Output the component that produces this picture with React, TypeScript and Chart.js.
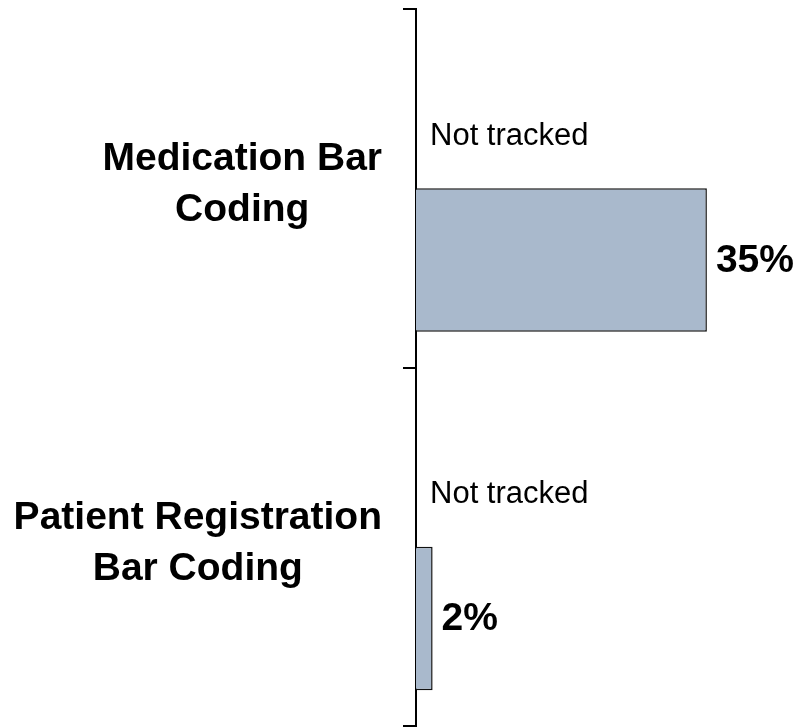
import React, { useEffect, useRef } from "react";
import { Chart, registerables } from "chart.js";

Chart.register(...registerables);

const categories: string[][] = [
  ["Medication Bar", "Coding"],
  ["Patient Registration", "Bar Coding"],
];
const notTrackedValues = [0, 0];
const notTrackedLabels = ["Not tracked", "Not tracked"];
const percentValues = [35, 2];

const FONT = '"Liberation Sans", Arial, sans-serif';
const BAR_COLOR = "#A9B9CC";

const labelsPlugin = {
  id: "customLabels",
  afterDatasetsDraw(chart: any) {
    const ctx = chart.ctx;
    const yScale = chart.scales.y;
    ctx.save();
    // category labels (centered per label, right edge near the axis ticks)
    ctx.fillStyle = "#000";
    ctx.font = `bold 39px ${FONT}`;
    ctx.textBaseline = "alphabetic";
    ctx.textAlign = "center";
    const rightEdge = chart.chartArea.left - 34;
    categories.forEach((lines, i) => {
      const cy = yScale.getPixelForValue(i);
      const widest = Math.max(...lines.map((l) => ctx.measureText(l).width));
      const cx = rightEdge - widest / 2;
      lines.forEach((line, j) => {
        ctx.fillText(line, cx, cy - 18 + j * 51);
      });
    });
    // "Not tracked" labels
    const meta0 = chart.getDatasetMeta(0);
    ctx.font = `31px ${FONT}`;
    ctx.textAlign = "left";
    meta0.data.forEach((bar: any, i: number) => {
      ctx.fillText(notTrackedLabels[i], bar.base + 14, bar.y + 28);
    });
    // value labels
    const meta1 = chart.getDatasetMeta(1);
    ctx.font = `bold 39px ${FONT}`;
    meta1.data.forEach((bar: any, i: number) => {
      ctx.fillText(`${percentValues[i]}%`, bar.x + 9, bar.y + 12);
    });
    ctx.restore();
  },
};

export default function App() {
  const canvasRef = useRef<HTMLCanvasElement | null>(null);

  useEffect(() => {
    document.body.style.margin = "0";
    document.body.style.overflow = "hidden";
    const canvas = canvasRef.current;
    if (!canvas) return;
    const chart = new Chart(canvas, {
      type: "bar",
      data: {
        labels: categories.map((c) => c.join(" ")),
        datasets: [
          {
            label: "Not tracked",
            data: notTrackedValues,
            backgroundColor: "rgba(0,0,0,0)",
            borderWidth: 0,
          },
          {
            label: "Percent",
            data: percentValues,
            backgroundColor: BAR_COLOR,
            borderColor: "#111",
            borderWidth: 1.5,
          },
        ],
      },
      options: {
        indexAxis: "y",
        responsive: false,
        animation: false,
        events: [],
        layout: { padding: { top: 9, bottom: 1, right: 7, left: 0 } },
        datasets: {
          bar: { categoryPercentage: 0.8, barPercentage: 1 },
        },
        plugins: {
          legend: { display: false },
          tooltip: { enabled: false },
          title: { display: false },
        },
        scales: {
          x: {
            display: false,
            min: 0,
            max: 45,
          },
          y: {
            ticks: { display: false },
            grid: {
              drawOnChartArea: false,
              drawTicks: true,
              tickLength: 13,
              lineWidth: 2,
              color: "#000",
            },
            border: { display: true, color: "#000", width: 2 },
            afterFit: (scale: any) => {
              scale.width = 416;
            },
          },
        },
      },
      plugins: [labelsPlugin],
    } as any);
    return () => chart.destroy();
  }, []);

  return (
    <div style={{ width: 797, height: 727 }}>
      <canvas ref={canvasRef} width={797} height={727} style={{ display: "block" }} />
    </div>
  );
}
